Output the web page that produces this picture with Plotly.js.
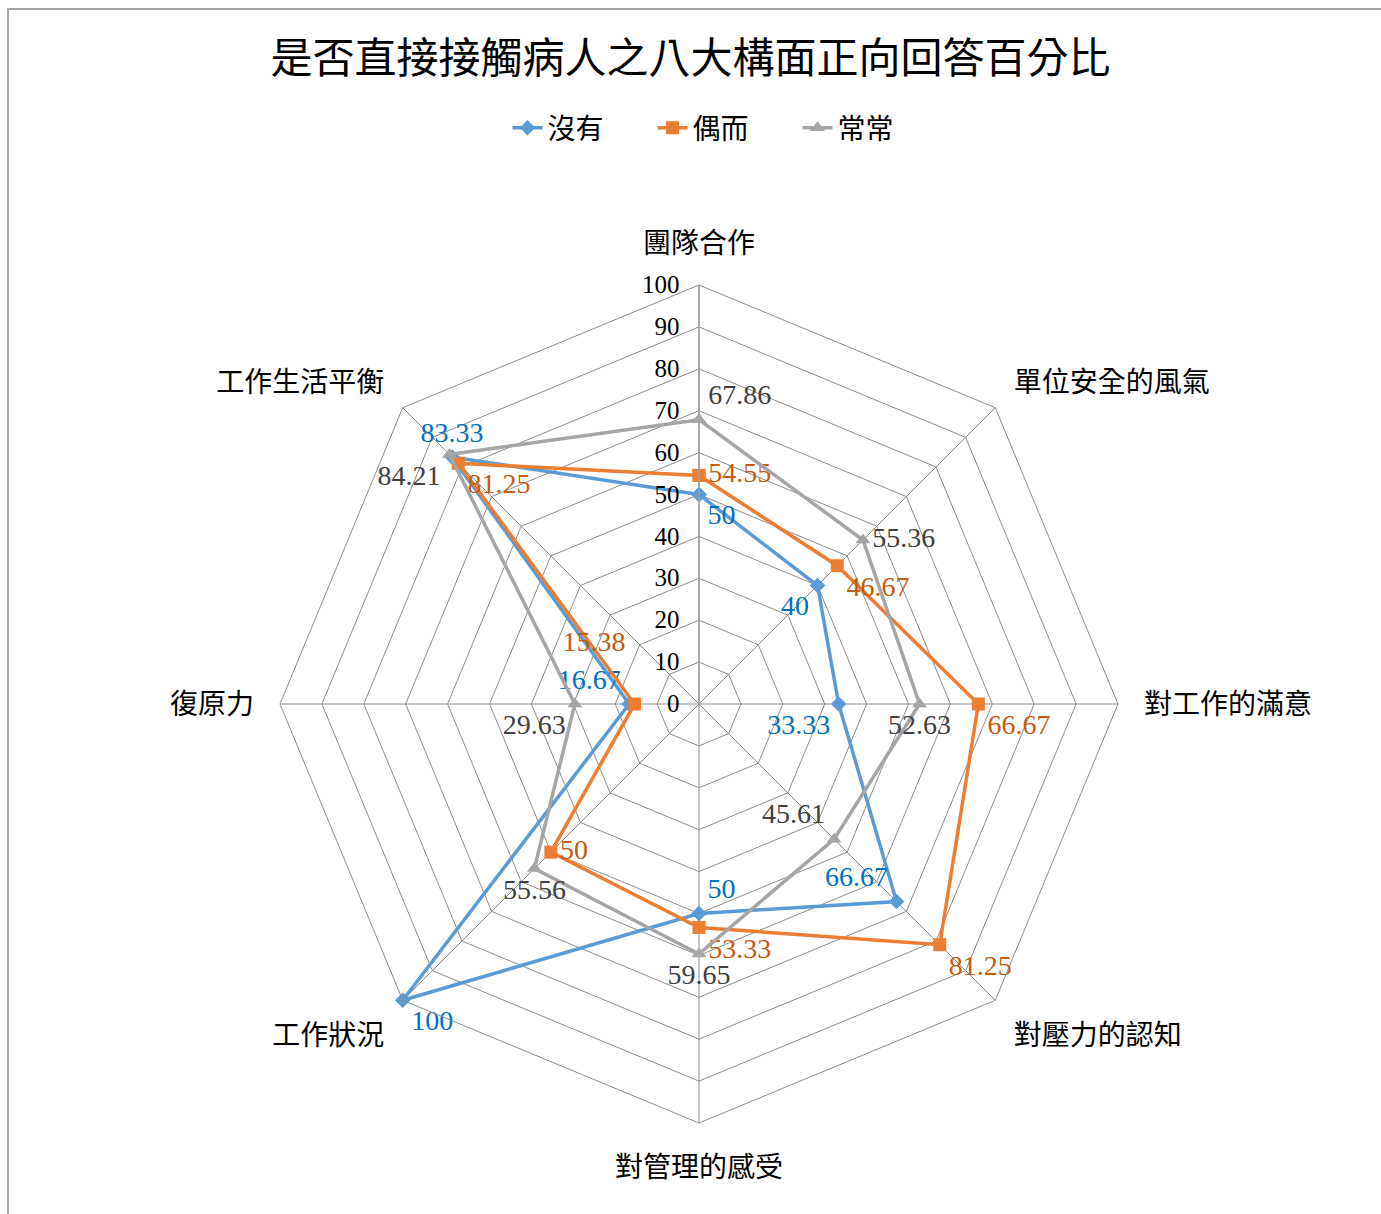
<!DOCTYPE html>
<html>
<head>
<meta charset="utf-8">
<script src="https://cdn.plot.ly/plotly-3.0.1.min.js"></script>
<style>html,body{margin:0;padding:0;background:#fff;}#chart{width:1381px;height:1214px;}</style>
</head>
<body>
<div id="chart"></div>
<script>
const categories = ['團隊合作','單位安全的風氣','對工作的滿意','對壓力的認知','對管理的感受','工作狀況','復原力','工作生活平衡'];
const seriesNames = ['沒有','偶而','常常'];
const valuesNone = [50, 40, 33.33, 66.67, 50, 100, 16.67, 83.33];
const valuesSometimes = [54.55, 46.67, 66.67, 81.25, 53.33, 50, 15.38, 81.25];
const valuesOften = [67.86, 55.36, 52.63, 45.61, 59.65, 55.56, 29.63, 84.21];
const radialTicks = [0,10,20,30,40,50,60,70,80,90,100];

const FONT = '"Liberation Serif", "Noto Sans CJK TC", serif';

const posNone = ['bottom right','bottom left','bottom left','top left','top right','bottom right','top left','top center'];
const posSometimes = ['middle right','bottom right','bottom right','bottom right','bottom right','middle right','top left','bottom right'];
const posOften = ['top right','middle right','bottom center','top left','bottom center','bottom center','bottom left','bottom left'];
// label templates: an extra blank line lifts a label further from its marker
const tplNone = ['%{r}','%{r}','%{r}','%{r}','%{r}','%{r}','%{r}','%{r}'];
const tplSometimes = ['%{r}','%{r}','%{r}','%{r}','%{r}','%{r}','%{r}<br> ','%{r}'];
const tplOften = ['%{r}','%{r}','%{r}','%{r}','%{r}','%{r}','%{r}','%{r}'];

function closed(a){ return a.concat([a[0]]); }

function makeTrace(name, vals, lineColor, textColor, symbol, msize, pos, tpl){
  return {
    type: 'scatterpolar',
    name: name,
    r: closed(vals),
    theta: closed(categories),
    mode: 'lines+markers+text',
    line: {color: lineColor, width: 3.5},
    marker: {color: lineColor, symbol: symbol, size: msize},
    texttemplate: tpl.concat(['']),
    textposition: pos.concat(['top center']),
    textfont: {family: FONT, size: 28, color: textColor},
    cliponaxis: false,
    hoverinfo: 'skip'
  };
}

const data = [
  makeTrace(seriesNames[0], valuesNone, '#5B9BD5', '#0070C0', 'diamond', 12, posNone, tplNone),
  makeTrace(seriesNames[1], valuesSometimes, '#ED7D31', '#C55A11', 'square', 13, posSometimes, tplSometimes),
  makeTrace(seriesNames[2], valuesOften, '#A5A5A5', '#404040', 'triangle-up', 13, posOften, tplOften)
];

const layout = {
  width: 1381,
  height: 1214,
  margin: {l:0, r:0, t:0, b:0},
  paper_bgcolor: '#ffffff',
  font: {family: FONT, color: '#000000'},
  title: {
    text: '是否直接接觸病人之八大構面正向回答百分比',
    font: {family: FONT, size: 42, color: '#000000'},
    x: 0.5, xanchor: 'center',
    y: 1 - 58/1214, yanchor: 'middle'
  },
  showlegend: true,
  legend: {
    orientation: 'h',
    x: 0.525, xanchor: 'center',
    y: 1 - 128/1214, yanchor: 'middle',
    font: {family: FONT, size: 28, color: '#000000'},
    entrywidth: 100,
    itemclick: false
  },
  polar: {
    domain: {x: [280/1381, 1118/1381], y: [(1214-1123)/1214, (1214-285)/1214]},
    bgcolor: 'rgba(0,0,0,0)',
    gridshape: 'linear',
    angularaxis: {
      type: 'category',
      direction: 'clockwise',
      rotation: 90,
      showgrid: true,
      gridcolor: '#8c8c8c',
      gridwidth: 1,
      showline: true,
      linecolor: '#8c8c8c',
      linewidth: 1,
      ticks: 'outside',
      ticklen: 20,
      tickcolor: 'rgba(0,0,0,0)',
      tickfont: {family: FONT, size: 28, color: '#000000'}
    },
    radialaxis: {
      range: [0, 100],
      tickvals: radialTicks,
      angle: 90,
      tickangle: 90,
      side: 'counterclockwise',
      showline: true,
      linecolor: '#a0a0a0',
      linewidth: 1.5,
      showgrid: true,
      gridcolor: '#8c8c8c',
      gridwidth: 1,
      ticks: 'outside',
      ticklen: 10,
      tickcolor: 'rgba(0,0,0,0)',
      tickfont: {family: FONT, size: 25, color: '#000000'}
    }
  },
  shapes: [{
    type: 'rect', xref: 'paper', yref: 'paper',
    x0: 8/1381, x1: 1.05, y0: -0.05, y1: 1 - 9/1214,
    line: {color: '#A6A6A6', width: 2}, fillcolor: 'rgba(0,0,0,0)', layer: 'below'
  }]
};

Plotly.newPlot('chart', data, layout, {displayModeBar: false, staticPlot: true});
</script>
</body>
</html>
